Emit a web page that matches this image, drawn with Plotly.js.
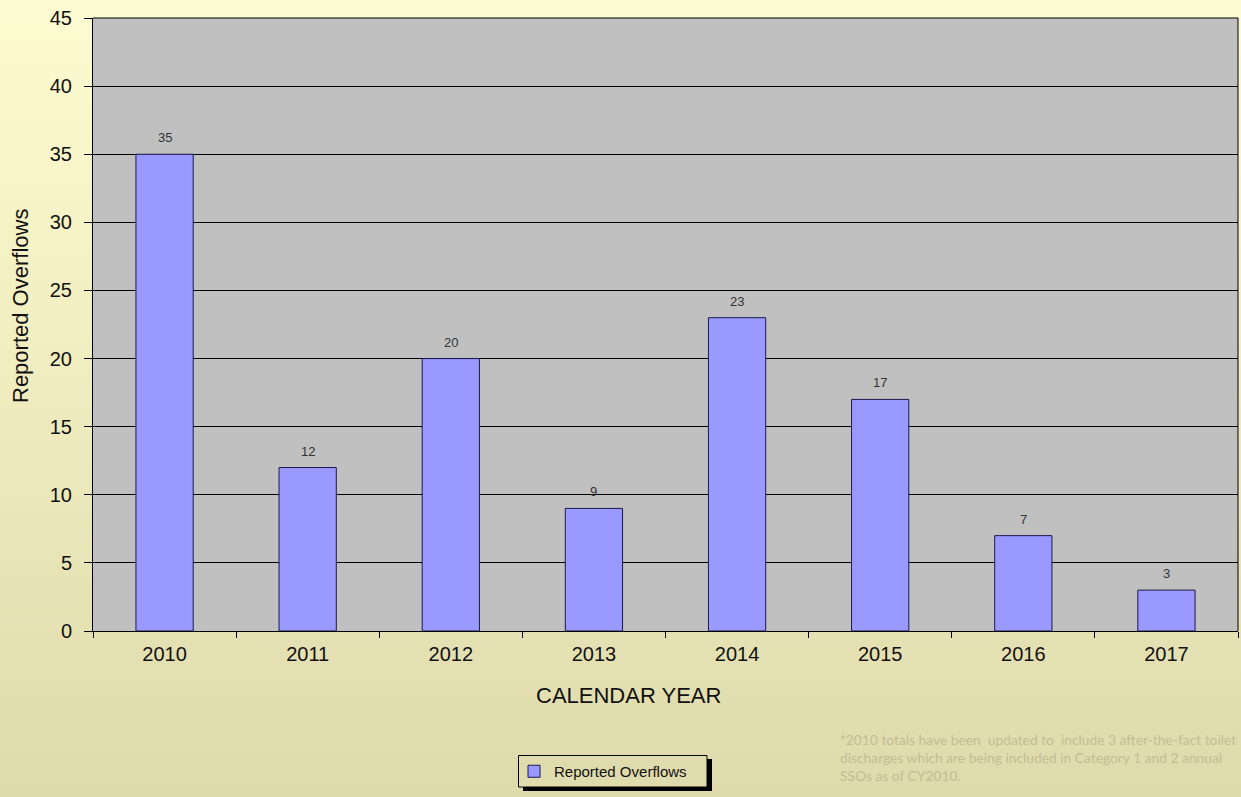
<!DOCTYPE html>
<html>
<head>
<meta charset="utf-8">
<script src="https://cdn.plot.ly/plotly-3.0.1.min.js"></script>
<style>
html,body{margin:0;padding:0;width:1241px;height:797px;overflow:hidden;
background:linear-gradient(to bottom,#fdfbd1 0%,#f2efc2 40%,#dedaac 100%);}
#chart{width:1241px;height:797px;}
</style>
</head>
<body>
<div id="chart"></div>
<script>
const years = ['2010','2011','2012','2013','2014','2015','2016','2017'];
const overflows = [35, 12, 20, 9, 23, 17, 7, 3];
const seriesName = 'Reported Overflows';
const yTicks = [0,5,10,15,20,25,30,35,40,45];
const xTitle = 'CALENDAR YEAR';
const yTitle = 'Reported Overflows';
const footnote = '*2010 totals have been  updated to  include 3 after-the-fact toilet<br>discharges which are being included in Category 1 and 2 annual<br>SSOs as of CY2010.';

const trace = {
  type:'bar', x: years, y: overflows, name: seriesName,
  marker:{color:'#9999ff', line:{color:'#1a1a4d', width:1}}
};

const W = 1145, H = 613, L = 93, T = 18;
const px = v => (v - L) / W;
const py = v => (T + H - v) / H;

const labelAnns = overflows.map((v, i) => ({
  x: i, y: v, xref:'x', yref:'y', text: String(v),
  showarrow:false, yanchor:'bottom', yshift:7,
  font:{family:'Liberation Sans, Arial, sans-serif', size:13, color:'#333333'}
}));

const layout = {
  width:1241, height:797,
  margin:{l:L, r:1241-L-W, t:T, b:797-T-H},
  paper_bgcolor:'rgba(0,0,0,0)',
  plot_bgcolor:'#c0c0c0',
  bargap:0.6,
  font:{family:'Liberation Sans, Arial, sans-serif', color:'#000'},
  xaxis:{
    type:'category', categoryorder:'array', categoryarray:years,
    tickson:'boundaries', ticks:'outside', ticklen:6, tickcolor:'#000',
    showline:true, linecolor:'#000', linewidth:1, tickangle:0,
    tickfont:{size:20, color:'#111'}, ticklabelstandoff:5
  },
  yaxis:{
    range:[0,45], tickvals:yTicks, ticks:'outside', ticklen:8, tickcolor:'#000',
    showline:true, linecolor:'#000', linewidth:1,
    showgrid:true, gridcolor:'#000', gridwidth:1, zeroline:false,
    tickfont:{size:20, color:'#111'}, ticklabelstandoff:8
  },
  showlegend:true,
  legend:{
    x:px(514), xanchor:'left', y:py(755), yanchor:'top',
    bgcolor:'rgba(0,0,0,0)', borderwidth:0,
    font:{size:15, color:'#111'}, itemwidth:30
  },
  shapes:[
    {type:'line', xref:'paper', yref:'paper', x0:1, x1:1, y0:0, y1:1, line:{color:'#000', width:1}},
    {type:'line', xref:'paper', yref:'paper', x0:0, x1:1, y0:1, y1:1, line:{color:'#000', width:1}},
    {type:'rect', xref:'paper', yref:'paper', x0:px(523), x1:px(712), y0:py(759), y1:py(791),
     fillcolor:'#000', line:{width:0}},
    {type:'rect', xref:'paper', yref:'paper', x0:px(518.5), x1:px(707), y0:py(755.5), y1:py(787),
     fillcolor:'#dfdbad', line:{color:'#000', width:1}}
  ],
  annotations: labelAnns.concat([
    {xref:'paper', yref:'paper', x:px(628.5), y:py(695), xanchor:'center', yanchor:'middle',
     showarrow:false, text:xTitle, font:{size:22, color:'#111'}},
    {xref:'paper', yref:'paper', x:px(20), y:py(306), xanchor:'center', yanchor:'middle',
     showarrow:false, text:yTitle, textangle:-90, font:{size:22, color:'#111'}},
    {xref:'paper', yref:'paper', x:px(838), y:py(729), xanchor:'left', yanchor:'top',
     align:'left', showarrow:false, text:footnote,
     font:{family:'Lato, Open Sans, sans-serif', size:13.8, color:'#c2be94'}}
  ])
};

Plotly.newPlot('chart', [trace], layout, {displayModeBar:false, staticPlot:true});
</script>
</body>
</html>
